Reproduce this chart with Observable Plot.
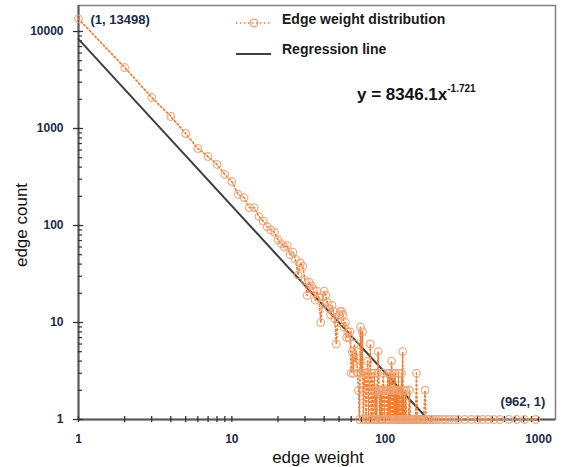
<!DOCTYPE html>
<html><head><meta charset="utf-8">
<script src="https://cdn.jsdelivr.net/npm/d3@7"></script>
<script src="https://cdn.jsdelivr.net/npm/@observablehq/plot@0.6"></script>
<style>body{margin:0;background:#fff}</style>
</head><body><div id="chart"></div>
<script>
// Edge weight distribution (weight, count)
const weights = [1,2,3,4,5,6,7,8,9,10,11,12,13,14,15,16,17,18,19,20,
  21,22,23,24,25,26,27,28,29,30,31,32,33,34,35,36,37,38,39,40,
  41,42,43,44,45,46,47,48,49,50,51,52,53,54,55,56,57,58,59,60,
  61,62,63,64,65,66,67,68,69,70,71,72,73,74,75,76,77,78,79,80,
  81,82,83,84,85,86,87,88,89,90,91,92,93,94,95,96,97,98,99,100,
  101,102,103,104,105,106,107,108,109,110,111,112,113,114,115,116,117,118,119,120,
  121,122,123,124,125,126,127,128,129,130,131,132,133,135,136,138,140,142,144,146,
  148,150,153,155,158,160,162,165,168,171,175,178,182,185,190,196,205,213,222,236,
  248,262,281,300,330,365,400,431,470,512,560,640,720,810,962];
const counts = [13498,4256,2090,1330,888,622,514,426,336,284,209,194,153,153,124,111,97,90,85,71,
  65,60,62,50,53,45,31,41,38,27,19,26,24,22,17,21,18,10,16,21,
  19,16,14,12,15,13,11,6,10,12,13,13,12,9,10,7,8,7,8,3,
  5,3,6,4,5,3,2,1,9,3,8,1,3,3,1,3,4,1,2,6,
  1,3,1,2,3,1,2,1,3,5,2,1,2,1,2,1,3,2,1,2,
  2,2,1,3,1,2,3,1,2,4,1,3,2,1,2,3,1,2,1,2,
  1,3,1,2,2,1,1,3,1,5,1,2,1,1,2,1,1,1,2,1,
  1,1,1,1,1,3,1,1,1,1,1,1,2,1,1,1,1,1,1,1,
  1,1,1,1,1,1,1,1,1,1,1,1,1,1,1];
// Regression line y = 8346.1 x^-1.721 (end points)
const regWeights = [1, 190.5];
const regCounts = [8346.1, 1];
// Axis ticks
const xMajor = [1, 10, 100, 1000];
const xMinor = [2,3,4,5,6,7,8,9,20,30,40,50,60,70,80,90,200,300,400,500,600,700,800,900];
const yMajor = [1, 10, 100, 1000, 10000];
const yMinor = [2,3,4,5,6,7,8,9,20,30,40,50,60,70,80,90,200,300,400,500,600,700,800,900,2000,3000,4000,5000,6000,7000,8000,9000];

const dist = weights.map((w, i) => ({w, c: counts[i]}));
const reg = regWeights.map((w, i) => ({w, c: regCounts[i]}));
const labelColor = "#1c2a48";
const orange = "#ED7D31";
const dash = "1.5,2.5";

const chart = Plot.plot({
  width: 561, height: 467,
  marginLeft: 78, marginRight: 6, marginTop: 5, marginBottom: 48,
  x: {type: "log", domain: [1, 1290]},
  y: {type: "log", domain: [1, 18540]},
  style: {fontFamily: "'Liberation Sans', Arial, sans-serif", background: "#fff"},
  marks: [
    Plot.frame({stroke: "#808080", strokeWidth: 1.5}),
    Plot.ruleY([1], {stroke: "#595959", strokeWidth: 2}),
    Plot.ruleX([1], {stroke: "#595959", strokeWidth: 2}),
    Plot.ruleX(xMajor.concat(xMinor), {x: d => d, y1: () => 1, y2: () => 1, insetTop: -3, insetBottom: -3, stroke: "#333", strokeWidth: 1.3}),
    Plot.ruleY(yMajor, {y: d => d, x1: () => 1, x2: () => 1, insetLeft: -5, insetRight: -5, stroke: "#333", strokeWidth: 1.3}),
    Plot.ruleY(yMinor, {y: d => d, x1: () => 1, x2: () => 1, insetLeft: 0, insetRight: -4, stroke: "#333", strokeWidth: 1.2}),
    Plot.axisX({ticks: xMajor, tickSize: 0, tickPadding: 15, tickFormat: d => String(d), fontWeight: "bold", fontSize: 12, fill: labelColor, label: null}),
    Plot.axisY({ticks: yMajor, tickSize: 0, tickPadding: 15, tickFormat: d => String(d), fontWeight: "bold", fontSize: 12, fill: labelColor, label: null}),
    Plot.line(reg, {x: "w", y: "c", stroke: "#404040", strokeWidth: 2}),
    Plot.line(dist, {x: "w", y: "c", stroke: orange, strokeWidth: 1.7, strokeDasharray: dash}),
    Plot.dot(dist, {x: "w", y: "c", r: 3.8, stroke: "#F0A070", strokeWidth: 1.3, fill: "none", strokeOpacity: 0.85}),
    Plot.text([dist[0]], {x: "w", y: "c", text: () => "(1, 13498)", dx: 12, dy: 1, textAnchor: "start", fontWeight: "bold", fontSize: 13, fill: labelColor}),
    Plot.text([dist[dist.length - 1]], {x: "w", y: "c", text: d => `(${d.w}, ${d.c})`, dx: -13, dy: -18, textAnchor: "middle", fontWeight: "bold", fontSize: 13, fill: labelColor})
  ]
});
document.getElementById("chart").appendChild(chart);

const svg = d3.select(chart);
// Legend
const lg = svg.append("g").attr("text-anchor", "start");
lg.append("line").attr("x1", 236).attr("x2", 271).attr("y1", 23).attr("y2", 23)
  .attr("stroke", orange).attr("stroke-width", 1.7).attr("stroke-dasharray", dash);
lg.append("circle").attr("cx", 254).attr("cy", 23).attr("r", 3.8).attr("fill", "none")
  .attr("stroke", "#F0A070").attr("stroke-width", 1.3);
lg.append("text").attr("x", 282).attr("y", 24).text("Edge weight distribution")
  .attr("font-size", 14).attr("font-weight", "bold").attr("fill", "#1a1a1a");
lg.append("line").attr("x1", 236).attr("x2", 271).attr("y1", 54).attr("y2", 54)
  .attr("stroke", "#404040").attr("stroke-width", 2);
lg.append("text").attr("x", 282).attr("y", 54).text("Regression line")
  .attr("font-size", 14).attr("font-weight", "bold").attr("fill", "#1a1a1a");
// Equation
const eq = svg.append("text").attr("text-anchor", "start").attr("x", 357).attr("y", 100).attr("font-size", 17)
  .attr("font-weight", "bold").attr("fill", "#111");
eq.append("tspan").text("y = 8346.1x");
eq.append("tspan").attr("font-size", 10).attr("dy", -8).text("-1.721");
// Axis titles
svg.append("text").attr("x", 318).attr("y", 463).attr("text-anchor", "middle")
  .attr("font-size", 17).attr("fill", "#111").text("edge weight");
svg.append("text").attr("transform", "translate(27,225) rotate(-90)").attr("text-anchor", "middle")
  .attr("font-size", 17).attr("fill", "#111").text("edge count");
</script>
</body></html>
